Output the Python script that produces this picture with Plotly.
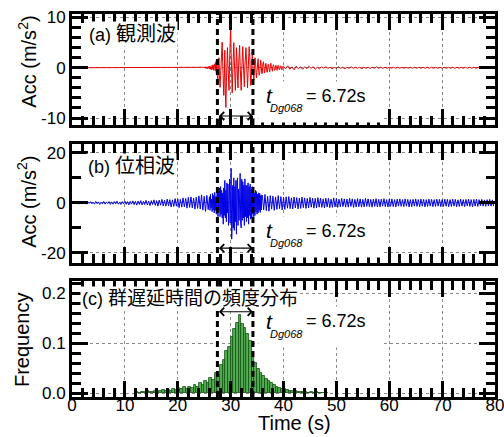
import numpy as np
import plotly.graph_objects as go

FONT = "Liberation Sans, Arial, Noto Sans CJK JP, sans-serif"

# ---------------- data ----------------
time_ticks = [0, 10, 20, 30, 40, 50, 60, 70, 80]
time_ticktext = ["0", "10", "20", "30", "40", "50", "60", "70", "80"]

t_d_start = 27.50          # start of group-delay duration window (s)
t_d_end = 34.22            # end of window (s)
t_d_text = "= 6.72s"

panel_labels = ["(a) ", "(b) ", "(c) "]
panel_labels_jp = ["観測波", "位相波", "群遅延時間の頻度分布"]

# (a) observed wave, red
acc_a_quiet_t = [0.0, 24.9]
acc_a_quiet = [0.0, 0.0]
acc_a_main_t0, acc_a_main_dt = 25.0, 0.1
acc_a_main = [
    0.0, 0.1, -0.1, 0.2, -0.1, 0.1, -0.2, 0.2, -0.1, 0.3,
    -0.2, 0.3, -0.3, 0.2, -0.4, 0.5, -0.3, 0.6, -0.5, 0.4,
    0.8, -0.6, 1.2, -1.0, 1.5, -1.8, -2.5, 1.0, 2.0, -1.5,
    -3.9, -1.5, 2.5, 4.0, 5.1, 1.0, -3.0, -5.5, -2.0, 3.5,
    -5.0, -7.9, -3.0, 2.5, 4.0, 0.5, -3.0, -4.5, 1.0, 5.0,
    8.1, 3.0, -3.5, -5.0, -1.0, 3.5, 5.0, 1.5, -3.0, -4.5,
    -1.0, 4.0, 2.0, -2.5, -4.0, 0.5, 3.5, 4.5, 0.5, -3.5,
    -4.5, -0.5, 3.0, 4.2, 1.0, -2.5, -3.8, 0.5, 3.5, 4.0,
    1.5, -2.5, -4.0, -1.0, 2.8, 4.2, 3.0, -1.5, -3.5, -2.0,
    2.0, 3.0, 0.5, -2.0, -2.5, 0.5, 2.0, 1.5, -1.0, -2.0,
    -0.5, 1.5, 1.8, -0.5, -1.5, -1.0, 1.0, 1.5, 0.2, -1.2,
    -1.0, 0.8, 1.2, 0.2, -1.0, -0.6, 0.8, 0.9, -0.3, -0.9,
    -0.4, 0.7, 0.6, -0.5, -0.8, 0.2, 0.9, 0.3, -0.6, -0.7,
    0.3, 0.6, 0.2, -0.5, -0.4, 0.4, 0.5, -0.2, -0.5, 0.1,
    0.5, 0.2, -0.4, -0.3, 0.3, 0.4, -0.2, -0.4, 0.2, 0.3,
]
acc_a_tail_t0, acc_a_tail_dt = 40.0, 0.4
acc_a_tail = [
    0.3, -0.2, 0.4, -0.3, 0.2, -0.4, 0.3, -0.2, 0.2, -0.3,
    0.2, -0.2, 0.3, -0.1, 0.2, -0.3, 0.1, -0.2, 0.2, -0.1,
    0.2, -0.1, 0.1, -0.2, 0.1, -0.1, 0.2, -0.1, 0.1, -0.2,
    0.1, -0.1, 0.2, -0.1, 0.1, -0.1, 0.1, -0.2, 0.1, -0.1,
    0.1, -0.1, 0.1, -0.1, 0.2, -0.1, 0.1, -0.1, 0.1, -0.1,
    0.1, -0.1, 0.1, -0.1, 0.1, -0.1, 0.1, -0.1, 0.1, -0.1,
    0.1, -0.1, 0.1, -0.1, 0.1, -0.1, 0.1, -0.1, 0.1, -0.1,
    0.1, -0.1, 0.1, -0.1, 0.1, -0.1, 0.1, -0.1, 0.1, -0.1,
    0.1, -0.1, 0.1, -0.1, 0.1, -0.1, 0.1, -0.1, 0.1, -0.1,
    0.1, -0.1, 0.1, -0.1, 0.1, -0.1, 0.1, -0.1,
]

# (b) phase wave, blue
acc_b_pre_t0, acc_b_pre_dt = 0.0, 0.25
acc_b_pre = [
    0.3, -0.4, 0.5, -0.2, 0.4, -0.5, 0.2, -0.3,
    0.5, -0.4, 0.3, -0.5, 0.4, -0.2, 0.5, -0.4,
    0.3, -0.5, 0.6, -0.3, 0.4, -0.6, 0.3, -0.4,
    0.6, -0.5, 0.4, -0.3, 0.5, -0.6, 0.4, -0.5,
    0.5, -0.4, 0.7, -0.5, 0.3, -0.6, 0.5, -0.4,
    0.7, -0.6, 0.5, -0.8, 0.6, -0.5, 0.8, -0.7,
    0.6, -0.9, 0.7, -0.6, 0.9, -0.8, 0.6, -0.7,
    1.0, -0.8, 0.7, -1.1, 0.9, -0.7, 1.2, -1.0,
    0.9, -1.3, 1.1, -0.9, 1.4, -1.2, 1.0, -1.3,
    1.5, -1.2, 1.3, -1.6, 1.2, -1.4, 1.7, -1.3,
    1.6, -1.9, 1.4, -1.7, 2.0, -1.6, 1.8, -2.1,
    2.2, -1.8, 2.4, -2.0, 1.9, -2.5, 2.3, -2.2,
    2.8, -2.4, 3.2, -2.9, 2.6, -3.4, 3.0, -2.7,
]
acc_b_main_t0, acc_b_main_dt = 26.0, 0.1
acc_b_main = [
    2.5, -3.0, 3.5, -2.0, 1.5, -3.5, 3.8, -2.8, 3.0, -4.0,
    4.2, -3.0, 2.5, -4.5, 3.5, 5.0, -5.5, 4.5, -3.5, 6.0,
    -5.5, 6.5, -4.5, 5.0, -6.0, 4.0, -8.5, 6.0, -5.0, 9.0,
    -6.0, 5.0, -7.5, 8.0, -4.0, 7.5, -9.0, 6.0, 9.5, -8.0,
    10.5, 13.8, -14.5, -9.0, 7.0, -10.0, 10.0, -11.0, 6.5, -7.5,
    9.0, -12.5, 8.0, 10.0, -9.0, 5.5, -7.0, 8.5, 11.8, -8.0,
    -10.0, 9.5, -7.0, 8.5, -6.0, 7.0, -9.0, 9.6, -5.5, 7.0,
    -7.5, 7.0, -6.0, 8.0, -8.5, 6.5, -5.0, 7.5, -6.5, 5.5,
    -6.0, 6.5, -4.5, 5.0, -5.5, 4.0, -5.0, 5.0, -3.5, 4.5,
    -4.5, 3.5, -4.0, 4.0, -3.0, 3.8, -3.8, 3.0, -2.8, 3.2,
]
acc_b_post_t0, acc_b_post_dt = 36.0, 0.25
acc_b_post = [
    3.0, -2.8, 3.4, -3.1, 2.6, -3.3, 2.9, -2.5,
    2.7, -3.0, 2.4, -2.6, 2.9, -2.3, 2.5, -2.8,
    2.2, -2.6, 2.4, -2.1, 2.5, -2.3, 2.0, -2.4,
    2.3, -2.0, 2.1, -2.4, 1.9, -2.2, 2.3, -1.9,
    2.0, -2.2, 1.8, -2.0, 2.2, -1.7, 1.9, -2.1,
    1.8, -2.0, 2.1, -1.7, 1.9, -1.8, 1.6, -2.0,
    1.9, -1.6, 1.8, -1.9, 1.5, -1.8, 2.0, -1.6,
    1.7, -1.8, 1.5, -1.6, 1.8, -1.5, 1.6, -1.7,
    1.5, -1.7, 1.8, -1.4, 1.6, -1.8, 1.4, -1.6,
    1.7, -1.5, 1.6, -1.7, 1.4, -1.6, 1.8, -1.4,
    1.6, -1.5, 1.4, -1.7, 1.5, -1.4, 1.7, -1.6,
    1.4, -1.6, 1.5, -1.3, 1.7, -1.5, 1.3, -1.6,
    1.5, -1.4, 1.6, -1.5, 1.3, -1.6, 1.5, -1.3,
    1.6, -1.4, 1.3, -1.5, 1.6, -1.3, 1.4, -1.6,
    1.3, -1.5, 1.4, -1.3, 1.6, -1.4, 1.3, -1.5,
    1.5, -1.3, 1.4, -1.6, 1.3, -1.4, 1.5, -1.3,
    1.4, -1.5, 1.3, -1.4, 1.5, -1.3, 1.4, -1.5,
    1.3, -1.4, 1.5, -1.3, 1.4, -1.5, 1.3, -1.4,
    1.5, -1.3, 1.4, -1.5, 1.2, -1.4, 1.5, -1.3,
    1.3, -1.5, 1.4, -1.2, 1.5, -1.4, 1.3, -1.5,
    1.4, -1.3, 1.5, -1.4, 1.3, -1.2, 1.4, -1.3,
    1.2, -1.4, 1.3, -1.2, 1.4, -1.3, 1.2, -1.3,
]

# (c) group-delay time histogram, green (bins of 0.5 s)
hist_bin0, hist_binw = 12.0, 0.5
hist_freq = [
    0.002, 0.001, 0.003, 0.002, 0.004, 0.002, 0.003, 0.005, 0.003, 0.004,
    0.006, 0.004, 0.007, 0.005, 0.008, 0.006, 0.010, 0.008, 0.012, 0.009,
    0.013, 0.011, 0.016, 0.012, 0.020, 0.017, 0.024, 0.020, 0.030, 0.027,
    0.040, 0.036, 0.056, 0.066, 0.084, 0.092, 0.112, 0.128, 0.140, 0.157,
    0.138, 0.130, 0.118, 0.104, 0.082, 0.060, 0.048, 0.040, 0.034, 0.028,
    0.024, 0.020, 0.016, 0.013, 0.011, 0.009, 0.008, 0.006, 0.005, 0.004,
    0.004, 0.003, 0.002, 0.003, 0.002, 0.001, 0.002, 0.001, 0.002, 0.001,
    0.001, 0.000, 0.001,
]

# ---------------- assemble ----------------
def seg(t0, dt, vals):
    return t0 + dt * np.arange(len(vals))

t_a = np.concatenate([acc_a_quiet_t, seg(acc_a_main_t0, acc_a_main_dt, acc_a_main),
                      seg(acc_a_tail_t0, acc_a_tail_dt, acc_a_tail)])
y_a = np.concatenate([acc_a_quiet, acc_a_main, acc_a_tail])
t_b = np.concatenate([seg(acc_b_pre_t0, acc_b_pre_dt, acc_b_pre),
                      seg(acc_b_main_t0, acc_b_main_dt, acc_b_main),
                      seg(acc_b_post_t0, acc_b_post_dt, acc_b_post)])
y_b = np.concatenate([acc_b_pre, acc_b_main, acc_b_post])
hist_x = hist_bin0 + hist_binw * np.arange(len(hist_freq)) + hist_binw / 2

fig = go.Figure()
fig.add_trace(go.Scatter(x=t_a, y=y_a, mode="lines", line=dict(color="rgb(232,0,0)", width=1),
                         xaxis="x", yaxis="y", showlegend=False, hoverinfo="skip"))
fig.add_trace(go.Scatter(x=t_b, y=y_b, mode="lines", line=dict(color="rgb(0,0,230)", width=1),
                         xaxis="x2", yaxis="y2", showlegend=False, hoverinfo="skip"))
fig.add_trace(go.Bar(x=hist_x, y=hist_freq, width=hist_binw,
                     marker=dict(color="rgb(84,172,84)", line=dict(color="rgb(15,80,15)", width=0.8)),
                     xaxis="x3", yaxis="y3", showlegend=False, hoverinfo="skip"))

time_minor = [v for v in range(0, 81, 2) if v % 10 != 0]

GRID = dict(showgrid=True, gridcolor="#8a8a8a", griddash="dot", gridwidth=1, zeroline=False)
FRAME = dict(showline=True, linewidth=3, linecolor="black", mirror="ticks",
             ticks="inside", ticklen=16, tickwidth=3, tickcolor="black", automargin=False,
             ticklabeloverflow="allow",
             tickfont=dict(family=FONT, size=17, color="black"))


def xcfg(anchor, labels):
    return dict(domain=[0, 1], anchor=anchor, range=[0, 80], tickmode="array",
                tickvals=time_ticks, ticktext=time_ticktext, showticklabels=labels,
                ticklabelstandoff=-9,
                minor=dict(tickmode="array", tickvals=time_minor, ticks="inside",
                           ticklen=9, tickwidth=2.5, tickcolor="black", showgrid=False),
                **FRAME, **GRID)


def ycfg(anchor, dom, rng, vals, text, minor_vals):
    return dict(domain=dom, anchor=anchor, range=rng, tickmode="array", tickvals=vals,
                ticktext=text,
                minor=dict(tickmode="array", tickvals=minor_vals, ticks="inside",
                           ticklen=9, tickwidth=2.5, tickcolor="black", showgrid=False),
                **FRAME, **GRID)


ya_minor = [v for v in range(-10, 11, 2) if v % 10 != 0]
yb_minor = [-10, 10]
yc_minor = [round(0.02 * k, 2) for k in range(0, 12) if k % 5 != 0]

fig.update_layout(
    template="none",
    width=504, height=437, autosize=False,
    margin=dict(l=72, r=9, t=14, b=40, pad=0),
    paper_bgcolor="white", plot_bgcolor="white",
    font=dict(family=FONT, size=17, color="black"),
    bargap=0,
    xaxis=xcfg("y", False),
    xaxis2=xcfg("y2", False),
    xaxis3=xcfg("y3", True),
    yaxis=ycfg("x", [0.710, 1.0], [-11.4, 10.7], [-10, 0, 10], ["-10", "0", "10"], ya_minor),
    yaxis2=ycfg("x2", [0.350, 0.661], [-24.0, 23.6], [-20, 0, 20], ["-20", "0", "20"], yb_minor),
    yaxis3=ycfg("x3", [0.0, 0.303], [-0.0074, 0.2246], [0, 0.1, 0.2], ["0.0", "0.1", "0.2"], yc_minor),
)

axes = [("x", "y"), ("x2", "y2"), ("x3", "y3")]

# dashed window lines
for xr, yr in axes:
    for xv in (t_d_start, t_d_end):
        fig.add_shape(type="line", xref=xr, yref=f"{yr} domain", x0=xv, x1=xv, y0=0, y1=1,
                      line=dict(color="black", width=3, dash="6px,4px"), layer="above")

annotations = []
arrow_y = [-9.6, -18.1, 0.163]
t_center_y = [-5.54, -11.2, 0.1436]
box_center_y = [-6.74, -13.6, 0.1316]
label_pos = [(2.8, 6.66), (2.6, 14.8), (1.5, 0.19)]
label_jp_size = [20, 20, 19]
tlabel_x = 36.3

for i, (xr, yr) in enumerate(axes):
    # white backing box for the duration text
    annotations.append(dict(x=46.97, y=box_center_y[i], xref=xr, yref=yr, text=" ",
                            xanchor="center", yanchor="middle",
                            showarrow=False, width=120, height=38, bgcolor="white"))
    # panel label
    annotations.append(dict(x=label_pos[i][0], y=label_pos[i][1], xref=xr, yref=yr,
                            xanchor="left", yanchor="middle", showarrow=False,
                            bgcolor="white",
                            text=panel_labels[i] + f'<span style="font-size:{label_jp_size[i]}px">'
                            + panel_labels_jp[i] + "</span>",
                            font=dict(family=FONT, size=18, color="black")))
    # double-headed arrow
    annotations.append(dict(x=t_d_end, y=arrow_y[i], ax=t_d_start, ay=arrow_y[i],
                            xref=xr, yref=yr, axref=xr, ayref=yr, text="",
                            showarrow=True, arrowhead=4, startarrowhead=4,
                            arrowside="end+start", arrowwidth=1.2, arrowsize=1.3,
                            startarrowsize=1.3, arrowcolor="black", standoff=0,
                            startstandoff=0))
    # t_Dg068 = 6.72s
    annotations.append(dict(x=tlabel_x, y=t_center_y[i], xref=xr, yref=yr, xanchor="left",
                            yanchor="middle", showarrow=False, text="<i>t</i>",
                            font=dict(family=FONT, size=21, color="black")))
    annotations.append(dict(x=tlabel_x, y=t_center_y[i], xref=xr, yref=yr, xanchor="left",
                            yanchor="middle", showarrow=False, text="<i>Dg068</i>",
                            xshift=4, yshift=-12.5,
                            font=dict(family=FONT, size=11, color="black")))
    annotations.append(dict(x=tlabel_x, y=t_center_y[i], xref=xr, yref=yr, xanchor="left",
                            yanchor="middle", showarrow=False, text=t_d_text,
                            xshift=40,
                            font=dict(family=FONT, size=18, color="black")))

# axis titles
TITLE_FONT = dict(family=FONT, size=20, color="black")
annotations.append(dict(x=-0.106, y=0.876, xref="paper", yref="paper", textangle=-90,
                        xanchor="center", yanchor="middle",
                        showarrow=False, text="Acc (m/s<sup>2</sup>)", font=TITLE_FONT))
annotations.append(dict(x=-0.106, y=0.510, xref="paper", yref="paper", textangle=-90,
                        xanchor="center", yanchor="middle",
                        showarrow=False, text="Acc (m/s<sup>2</sup>)", font=TITLE_FONT))
annotations.append(dict(x=-0.118, y=0.149, xref="paper", yref="paper", textangle=-90,
                        xanchor="center", yanchor="middle",
                        showarrow=False, text="Frequency", font=TITLE_FONT))
annotations.append(dict(x=0.527, y=-0.069, xref="paper", yref="paper",
                        xanchor="center", yanchor="middle",
                        showarrow=False, text="Time (s)", font=TITLE_FONT))

fig.update_layout(annotations=annotations)

fig.write_html("out.html", config={"displayModeBar": False},
               post_script="document.body.style.margin='0px';document.body.style.overflow='hidden';")
